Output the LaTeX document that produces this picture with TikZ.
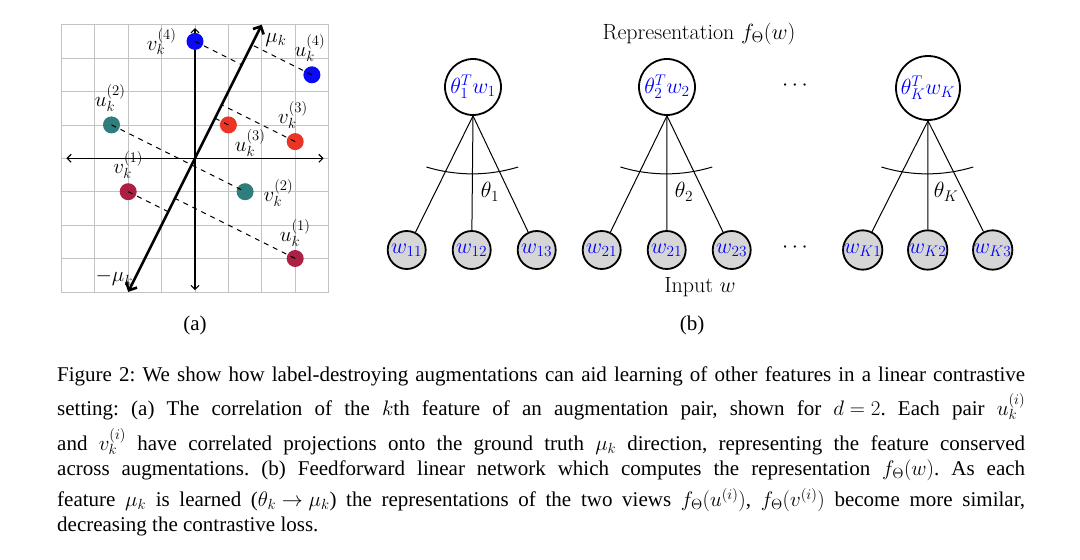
\RequirePackage{fix-cm}
\documentclass[tikz,border=0pt]{standalone}
\usepackage[no-math]{fontspec}
\setmainfont{Liberation Serif}
\usetikzlibrary{arrows.meta}
\definecolor{ptblue}{RGB}{10,10,245}
\definecolor{ptteal}{RGB}{48,125,125}
\definecolor{ptred}{RGB}{236,52,38}
\definecolor{ptcrim}{RGB}{172,32,70}
\definecolor{gridgray}{RGB}{195,195,195}
\newcommand\lmrfont{\fontfamily{lmr}\selectfont}
\frenchspacing
\begin{document}
\begin{tikzpicture}[x=1pt,y=-1pt,
  pt/.style={circle, inner sep=0pt, minimum size=17pt, draw=none},
  proj/.style={dash pattern=on 5pt off 5pt, line width=1pt},
  lab/.style={font=\fontsize{21}{24}\selectfont, inner sep=0pt},
  topn/.style={circle, draw, line width=1.8pt, inner sep=0.3pt, minimum size=56pt, font=\fontsize{22}{26}\selectfont, text=blue},
  botn/.style={circle, draw, line width=1.8pt, fill=gray!32, inner sep=0pt, minimum size=38pt, font=\fontsize{22}{26}\selectfont, text=blue},
  edge/.style={line width=1pt},
  txt/.style={font=\lmrfont\fontsize{22}{26}\selectfont, inner sep=0pt},
  capl/.style={anchor=base west, inner sep=0pt, font=\fontsize{21}{25}\selectfont},
  axis/.style={line width=1.1pt, {Straight Barb[length=4pt,width=8pt]}-{Straight Barb[length=4pt,width=8pt]}},
  muarrow/.style={line width=2.6pt, {Straight Barb[length=6pt,width=12pt]}-{Straight Barb[length=6pt,width=12pt]}},
]
\useasboundingbox (0,0) rectangle (1080,560);
\fill[white] (0,0) rectangle (1080,560);

% ---------- (a) ----------
\begin{scope}[shift={(195,158.3)}, x=33.4pt, y=33.4pt]
  \draw[gridgray, line width=0.8pt, step=1] (-4,-4) grid (4,4);
  \coordinate (xl) at (-3.85,0); \coordinate (xr) at (3.85,0);
  \coordinate (yb) at (0,-3.95); \coordinate (yt) at (0,3.9);
  \draw[axis] (xl) -- (xr);
  \draw[axis] (yb) -- (yt);
  \coordinate (mneg) at (-2,-4); \coordinate (mpos) at (2,4);
  \draw[muarrow] (mneg) -- (mpos);

  \node[pt, fill=ptblue] (v4) at (0,3.5) {};
  \node[pt, fill=ptblue] (u4) at (3.5,2.5) {};
  \node[pt, fill=ptteal] (u2) at (-2.5,1) {};
  \node[pt, fill=ptteal] (v2) at (1.5,-1) {};
  \node[pt, fill=ptred] (v3) at (1,1) {};
  \node[pt, fill=ptred] (u3) at (3,0.5) {};
  \node[pt, fill=ptcrim] (v1) at (-2,-1) {};
  \node[pt, fill=ptcrim] (u1) at (3,-3) {};

  \coordinate (pv4) at (1.4,2.8);
  \coordinate (pu4) at (1.7,3.4);
  \coordinate (pv3) at (0.6,1.2);
  \coordinate (pu3) at (0.8,1.6);
  \coordinate (pv1) at (-0.8,-1.6);
  \coordinate (pu1) at (-0.6,-1.2);
  \draw[proj] (v4.center) -- (pv4);
  \draw[proj] (u4.center) -- (pu4);
  \draw[proj] (u2.center) -- (v2.center);
  \draw[proj] (v3.center) -- (pv3);
  \draw[proj] (u3.center) -- (pu3);
  \draw[proj] (v1.center) -- (pv1);
  \draw[proj] (u1.center) -- (pu1);

  \node[lab] (lv4) at (-1.0,3.49) {$v_k^{(4)}$};
  \node[lab] (lu4) at (3.44,3.30) {$u_k^{(4)}$};
  \node[lab] (lu2) at (-2.54,1.81) {$u_k^{(2)}$};
  \node[lab] (lv3) at (2.93,1.30) {$v_k^{(3)}$};
  \node[lab] (lu3) at (1.65,0.46) {$u_k^{(3)}$};
  \node[lab] (lv1) at (-2.0,-0.2) {$v_k^{(1)}$};
  \node[lab] (lv2) at (2.50,-1.04) {$v_k^{(2)}$};
  \node[lab] (lu1) at (3.0,-2.24) {$u_k^{(1)}$};
  \node[lab] (lmu) at (2.42,3.54) {$\mu_k$};
  \node[lab] (lmmu) at (-2.42,-3.58) {$-\mu_k$};
\end{scope}
\node[font=\fontsize{21}{25}\selectfont, inner sep=0pt] (la) at (195,325) {(a)};

% ---------- (b) ----------
\node[txt] (rep) at (699,34) {Representation $f_\Theta(w)$};
\node[topn] (t1) at (473,87) {$\theta_1^T w_1$};
\node[topn] (t2) at (667,87) {$\theta_2^T w_2$};
\node[topn, minimum size=64pt] (tK) at (928,88) {$\theta_K^T w_K$};
\node[txt] (dtop) at (795,86) {$\cdots$};

\node[botn] (w11) at (406.7,250) {$w_{11}$};
\node[botn] (w12) at (471.7,250) {$w_{12}$};
\node[botn] (w13) at (536.7,250) {$w_{13}$};
\node[botn] (w21) at (601.7,250) {$w_{21}$};
\node[botn] (w22) at (666.7,250) {$w_{21}$};
\node[botn] (w23) at (731.7,250) {$w_{23}$};
\node[botn] (wK1) at (862.7,250) {$w_{K1}$};
\node[botn] (wK2) at (927.7,250) {$w_{K2}$};
\node[botn] (wK3) at (992.7,250) {$w_{K3}$};
\node[txt] (dbot) at (795,248) {$\cdots$};

\foreach \t/\a/\b/\c in {t1/w11/w12/w13, t2/w21/w22/w23, tK/wK1/wK2/wK3}{
  \draw[edge] (\t.south) -- (\a);
  \draw[edge] (\t.south) -- (\b);
  \draw[edge] (\t.south) -- (\c);
}
\draw[edge] ([shift={(-46.6,80)}]t1.center) arc[start angle=253, end angle=287, radius=157pt];
\draw[edge] ([shift={(-46.6,80)}]t2.center) arc[start angle=253, end angle=287, radius=157pt];
\draw[edge] ([shift={(-46.6,79)}]tK.center) arc[start angle=253, end angle=287, radius=157pt];
\node[txt] (th1) at (490,192) {$\theta_1$};
\node[txt] (th2) at (684,192) {$\theta_2$};
\node[txt] (thK) at (946,192) {$\theta_K$};

\node[txt] (inp) at (700,287) {Input $w$};
\node[font=\fontsize{21}{25}\selectfont, inner sep=0pt] (lb) at (692,325) {(b)};

% ---------- caption ----------
\node[capl] (c1) at (57,381.7) {\makebox[968pt][s]{Figure 2: We show how label-destroying augmentations can aid learning of other features in a linear contrastive}};
\node[capl] (c2) at (57,415) {\makebox[968pt][s]{setting: (a) The correlation of the $k$th feature of an augmentation pair, shown for ${d = 2}$. Each pair $u_k^{(i)}$}};
\node[capl] (c3) at (57,450) {\makebox[968pt][s]{and $v_k^{(i)}$ have correlated projections onto the ground truth $\mu_k$ direction, representing the feature conserved}};
\node[capl] (c4) at (57,475.7) {\makebox[968pt][s]{across augmentations. (b) Feedforward linear network which computes the representation $f_\Theta(w)$. As each}};
\node[capl] (c5) at (57,506.7) {\makebox[968pt][s]{feature $\mu_k$ is learned (${\theta_k \to \mu_k}$) the representations of the two views $f_\Theta(u^{(i)})$, $f_\Theta(v^{(i)})$ become more similar,}};
\node[capl] (c6) at (57,531.7) {decreasing the contrastive loss.};
\end{tikzpicture}
\end{document}
